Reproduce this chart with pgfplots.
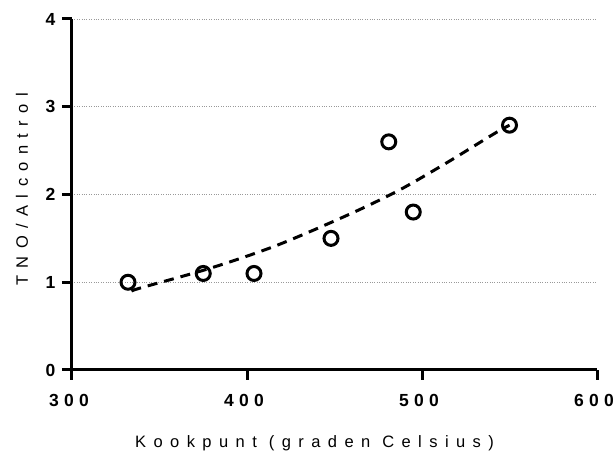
\documentclass[border=0pt]{standalone}
\usepackage{fontspec}
\setmainfont{Liberation Sans}
\newfontfamily\tickfont[LetterSpace=30]{Liberation Sans}
\newfontfamily\labfont[LetterSpace=45]{Liberation Sans}
\usepackage{pgfplots}
\pgfplotsset{compat=1.18}
\begin{document}
\begin{tikzpicture}
\useasboundingbox (-72pt,-82pt) rectangle (544pt,370pt);
\begin{axis}[
  at={(0,0)}, anchor=south west,
  width=525pt, height=351pt, scale only axis,
  xmin=300, xmax=600, ymin=0, ymax=4,
  axis lines*=left,
  axis line style={line width=3pt, -},
  xtick={300,400,500,600}, ytick={0,1,2,3,4},
  tick align=outside, major tick length=10pt,
  tick style={line width=3pt, black},
  ymajorgrids,
  major grid style={dotted, gray!80, line width=0.7pt},
  /pgf/number format/assume math mode=true,
  ticklabel style={font=\fontsize{17.5}{20}\selectfont\tickfont\bfseries},
  xticklabel style={yshift=-11pt, xshift=-3pt},
  yticklabel style={xshift=-3pt},
  xlabel={Kookpunt (graden Celsius)},
  ylabel={TNO/Alcontrol},
  xlabel style={font=\fontsize{16.5}{20}\selectfont\labfont, at={(rel axis cs:0.462,0)}, yshift=-78pt, anchor=base},
  ylabel style={font=\fontsize{16.5}{20}\selectfont\labfont, at={([xshift=-50pt]rel axis cs:0,0.515)}, anchor=center},
  clip=false,
]
\addplot[only marks, mark=o, mark size=7pt, line width=3pt, black] coordinates {
  (332,1.00) (375,1.10) (404,1.10) (448,1.50) (481,2.60) (495,1.80) (550,2.79)
};
\addplot[smooth, black, line width=3pt, dash pattern=on 10pt off 7pt] coordinates {
  (334,0.90) (340,0.94) (379,1.16) (417,1.42) (458,1.77) (487,2.05) (514,2.36) (541,2.69) (550,2.79)
};
\end{axis}
\end{tikzpicture}
\end{document}
